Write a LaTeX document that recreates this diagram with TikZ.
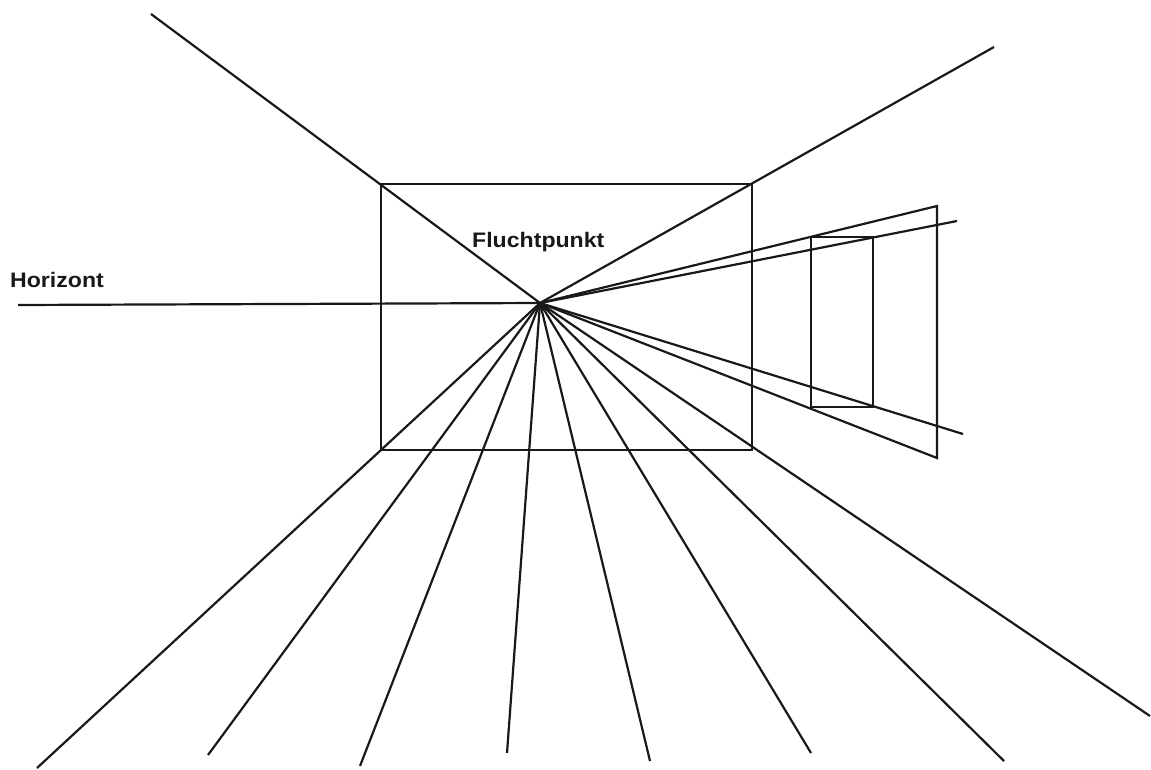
\documentclass[tikz,border=0pt]{standalone}
\usepackage{fontspec}
\setmainfont{Liberation Sans}
\newfontfamily\lblfont[FakeStretch=1.1]{Liberation Sans}
\begin{document}
\begin{tikzpicture}[x=1pt,y=-1pt,
  ln/.style={line width=2.2pt,draw=black!90},
  lbl/.style={font=\lblfont\bfseries\fontsize{21}{25}\selectfont,inner sep=0pt,anchor=base west,text=black!90}]
\useasboundingbox (0,0) rectangle (1151,769);
% vanishing point
\coordinate (vp) at (540,303);
% outer points
\coordinate (tl) at (151,14);
\coordinate (tr) at (994,47);
\coordinate (hz) at (18,305);
\coordinate (b1) at (37,768);
\coordinate (b2) at (208,755);
\coordinate (b3) at (360,766);
\coordinate (b4) at (507,753);
\coordinate (b5) at (650,761);
\coordinate (b6) at (811,753);
\coordinate (b7) at (1004,761);
\coordinate (b8) at (1150,716);
% central rectangle
\coordinate (r1) at (381,184);
\coordinate (r2) at (752,184);
\coordinate (r3) at (752,450);
\coordinate (r4) at (381,450);
% right panels
\coordinate (p1) at (937,206);
\coordinate (p2) at (937,458);
\coordinate (q1) at (957,221);
\coordinate (q2) at (963,434);
\coordinate (s1) at (811,237);
\coordinate (s2) at (873,237);
\coordinate (s3) at (873,407);
\coordinate (s4) at (811,407);
% drawing
\draw[ln] (r1) -- (r2) -- (r3) -- (r4) -- cycle;
\draw[ln] (tl) -- (vp);
\draw[ln] (tr) -- (vp);
\draw[ln] (hz) -- (vp);
\foreach \b in {b1,b2,b3,b4,b5,b6,b7,b8} \draw[ln] (vp) -- (\b);
\draw[ln] (vp) -- (p1) -- (p2) -- (vp);
\draw[ln] (vp) -- (q1);
\draw[ln] (vp) -- (q2);
\draw[ln] (s1) -- (s2) -- (s3) -- (s4) -- cycle;
% labels
\node[lbl] (horizont) at (10,287) {Horizont};
\node[lbl] (flucht) at (472,247) {Fluchtpunkt};
\end{tikzpicture}
\end{document}
